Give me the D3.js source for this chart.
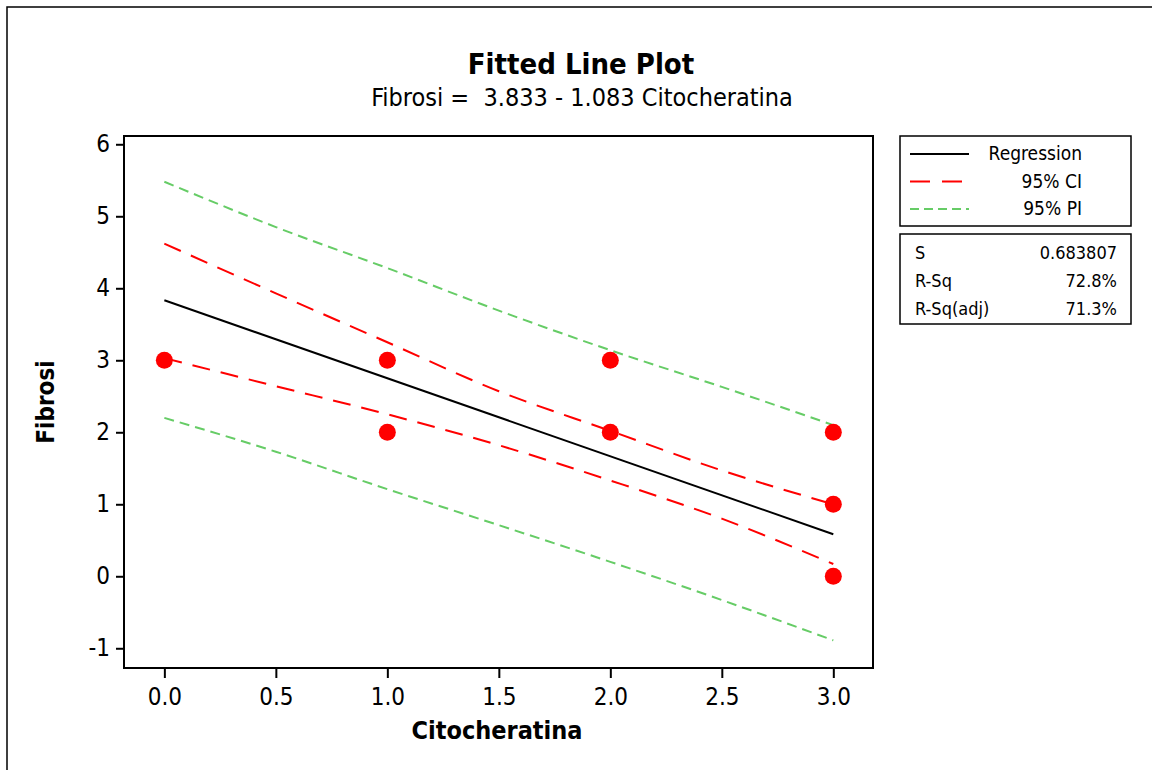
<!DOCTYPE html>
<html>
<head>
<meta charset="utf-8">
<script src="https://cdn.jsdelivr.net/npm/d3@7"></script>
<style>
body { margin: 0; background: #fff; }
text { font-family: "DejaVu Sans Condensed", "DejaVu Sans", sans-serif; font-stretch: condensed; fill: #000; white-space: pre; }
</style>
</head>
<body>
<script>
// observed points
var citoX = [0, 1, 1, 2, 2, 3, 3, 3];
var fibY  = [3, 3, 2, 3, 2, 2, 1, 0];

// fitted line, read at the ends
var fitX = [0, 3];
var fitY = [3.833, 0.584];

// bands
var bandX   = [0, 0.5, 1, 1.5, 2, 2.5, 3];
var ciUpper = [4.62, 3.93, 3.25, 2.57, 2.02, 1.47, 1.00];
var ciLower = [3.03, 2.64, 2.25, 1.82, 1.33, 0.80, 0.17];
var piUpper = [5.48, 4.85, 4.28, 3.69, 3.14, 2.63, 2.10];
var piLower = [2.20, 1.73, 1.21, 0.71, 0.20, -0.33, -0.89];

var xTicks = [0, 0.5, 1, 1.5, 2, 2.5, 3];
var yTicks = [-1, 0, 1, 2, 3, 4, 5, 6];

var legendNames = ["Regression", "95% CI", "95% PI"];
var statNames  = ["S", "R-Sq", "R-Sq(adj)"];
var statValues = ["0.683807", "72.8%", "71.3%"];

var w = 1152, h = 770;
var pLeft = 124, pRight = 873, pTop = 136, pBottom = 668;

var svg = d3.select("body").append("svg")
  .attr("width", w)
  .attr("height", h);

svg.append("rect")
  .attr("x", 7).attr("y", 7)
  .attr("width", 1200).attr("height", 800)
  .attr("fill", "none").attr("stroke", "#000").attr("stroke-width", 1.5);

var x = d3.scaleLinear().domain([-0.181, 3.178]).range([pLeft, pRight]);
var y = d3.scaleLinear().domain([-1.274, 6.115]).range([pBottom, pTop]);

// titles
svg.append("text")
  .attr("x", 581).attr("y", 74)
  .attr("text-anchor", "middle")
  .style("font-size", "29px").style("font-weight", "bold")
  .text("Fitted Line Plot");
svg.append("text")
  .attr("x", 582).attr("y", 106)
  .attr("text-anchor", "middle")
  .style("font-size", "25px")
  .text("Fibrosi =  3.833 - 1.083 Citocheratina");

// axes
var xAxis = d3.axisBottom(x).tickValues(xTicks).tickFormat(d3.format(".1f")).tickSize(10).tickPadding(10);
var yAxis = d3.axisLeft(y).tickValues(yTicks).tickFormat(function(d) { return String(d); }).tickSize(8).tickPadding(6);

var gx = svg.append("g")
  .attr("transform", "translate(0," + pBottom + ")")
  .call(xAxis);
var gy = svg.append("g")
  .attr("transform", "translate(" + pLeft + ",0)")
  .call(yAxis);
[gx, gy].forEach(function(g) {
  g.select(".domain").remove();
  g.selectAll("line").attr("stroke", "#000").attr("stroke-width", 2);
  g.selectAll("text").style("font-size", "24px").attr("font-family", null);
});

svg.append("rect")
  .attr("x", pLeft).attr("y", pTop)
  .attr("width", pRight - pLeft).attr("height", pBottom - pTop)
  .attr("fill", "none").attr("stroke", "#000").attr("stroke-width", 2);

svg.append("text")
  .attr("x", 497).attr("y", 739)
  .attr("text-anchor", "middle")
  .style("font-size", "25px").style("font-weight", "bold")
  .text("Citocheratina");
svg.append("text")
  .attr("transform", "translate(54,402) rotate(-90)")
  .attr("text-anchor", "middle")
  .style("font-size", "24px").style("font-weight", "bold")
  .text("Fibrosi");

// lines
var line = d3.line()
  .x(function(d) { return x(d[0]); })
  .y(function(d) { return y(d[1]); })
  .curve(d3.curveMonotoneX);

function band(vals) {
  return bandX.map(function(v, i) { return [v, vals[i]]; });
}

var plot = svg.append("g");
[[piUpper, "#66cc66", "10,6"], [piLower, "#66cc66", "10,6"],
 [ciUpper, "#ff0000", "18,11"], [ciLower, "#ff0000", "18,11"]].forEach(function(b) {
  plot.append("path")
    .datum(band(b[0]))
    .attr("d", line)
    .attr("fill", "none")
    .attr("stroke", b[1])
    .attr("stroke-width", 2)
    .attr("stroke-dasharray", b[2]);
});
plot.append("path")
  .datum(fitX.map(function(v, i) { return [v, fitY[i]]; }))
  .attr("d", line)
  .attr("fill", "none")
  .attr("stroke", "#000")
  .attr("stroke-width", 2);

plot.selectAll("circle")
  .data(citoX)
  .enter()
  .append("circle")
  .attr("cx", function(d) { return x(d); })
  .attr("cy", function(d, i) { return y(fibY[i]); })
  .attr("r", 8.5)
  .attr("fill", "#ff0000");

// legend
var legendStyles = [["#000", null], ["#ff0000", "20,12"], ["#66cc66", "9,5"]];
svg.append("rect")
  .attr("x", 900).attr("y", 136).attr("width", 231).attr("height", 90)
  .attr("fill", "none").attr("stroke", "#000").attr("stroke-width", 1.5);
legendNames.forEach(function(name, i) {
  var cy = 154 + i * 27.5;
  svg.append("line")
    .attr("x1", 910).attr("x2", 969)
    .attr("y1", cy).attr("y2", cy)
    .attr("stroke", legendStyles[i][0])
    .attr("stroke-width", 2)
    .attr("stroke-dasharray", legendStyles[i][1]);
  svg.append("text")
    .attr("x", 1082).attr("y", cy + 6)
    .attr("text-anchor", "end")
    .style("font-size", "19px")
    .text(name);
});

svg.append("rect")
  .attr("x", 900).attr("y", 234).attr("width", 231).attr("height", 90)
  .attr("fill", "none").attr("stroke", "#000").attr("stroke-width", 1.5);
statNames.forEach(function(name, i) {
  var cy = 253 + i * 28;
  svg.append("text")
    .attr("x", 915).attr("y", cy + 6)
    .style("font-size", "18px")
    .text(name);
  svg.append("text")
    .attr("x", 1117).attr("y", cy + 6)
    .attr("text-anchor", "end")
    .style("font-size", "18px")
    .text(statValues[i]);
});
</script>
</body>
</html>
